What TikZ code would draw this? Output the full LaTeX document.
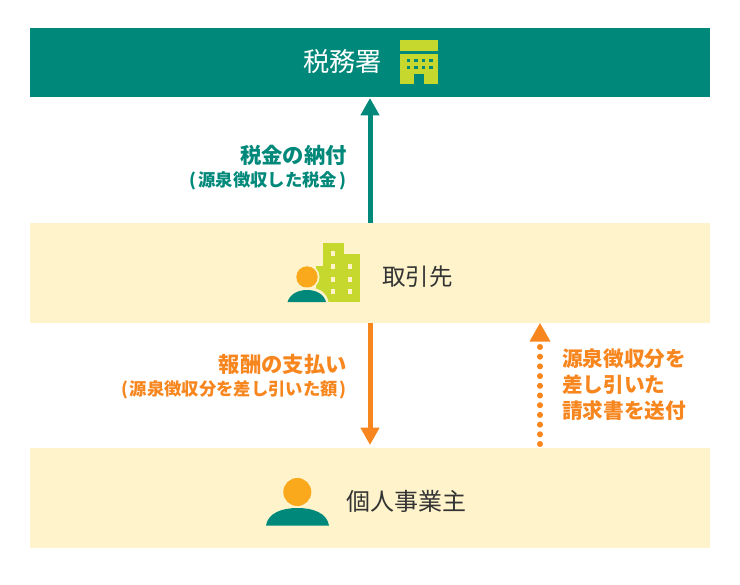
\documentclass[tikz,border=0pt]{standalone}
\usepackage{fontspec}
\usetikzlibrary{arrows.meta,calc}
\setmainfont{Noto Sans CJK JP}
\definecolor{grn}{HTML}{00897A}
\definecolor{crm}{HTML}{FEF3CB}
\definecolor{lime}{HTML}{C6D72E}
\definecolor{org}{HTML}{F8861E}
\definecolor{yel}{HTML}{FBA91C}
\definecolor{ink}{HTML}{333333}
\tikzset{
  x=0.75pt,y=-0.75pt,
  band/.style={anchor=north west,minimum width=510pt,minimum height=75pt,inner sep=0pt,draw=none},
  title/.style={font=\fontsize{19.7}{22}\selectfont,inner sep=0pt,text=ink},
  lab/.style={font=\bfseries\fontsize{16}{20}\selectfont,inner sep=0pt,align=left},
  sublab/.style={font=\bfseries\fontsize{13}{14}\selectfont,inner sep=0pt},
  solidarrow/.style={line width=3.75pt,-{Triangle[length=13pt,width=13.5pt]}},
}
\begin{document}
\begin{tikzpicture}
\useasboundingbox (0,0) rectangle (740,585);
\fill[white] (0,0) rectangle (740,585);
% bands
\node[band,fill=grn,minimum height=51.75pt] (tax) at (30,28) {};
\node[band,fill=crm] (client) at (30,223) {};
\node[band,fill=crm] (self) at (30,448) {};
% band titles
\node[title,text=white,anchor=west] (taxT) at (303,62) {税務署};
\node[title,anchor=west,font=\fontsize{17.6}{22}\selectfont] (clientT) at (382,277) {取引先};
\node[title,anchor=west,font=\fontsize{18}{22}\selectfont] (selfT) at (346,501) {個人事業主};
% tax office icon
\fill[lime] (399.5,40.5) rectangle (437.5,51);
\fill[lime] (399.5,54) rectangle (437.5,84.5);
\fill[grn] (414,74) rectangle (423.5,85);
\foreach \px in {408.5,416,423.5,431}{
  \fill[grn] (\px-1.75,59) rectangle ++(3.5,3.5);
  \fill[grn] (\px-1.75,66) rectangle ++(3.5,3.5);
}
% client icon: building
\fill[lime] (322.5,243) rectangle (343.5,302);
\fill[lime] (322.5,254) rectangle (360,302);
\fill[lime] (316,266) rectangle (323,302);
\foreach \px/\py in {333/253.5,333/266,333/279,333/291.5,350/266,350/279,350/291.5}{
  \fill[crm] (\px-2,\py-2.5) rectangle ++(4,5);
}
% client icon: person
\fill[crm] (307,277) circle (12.5);
\fill[yel] (307,277) circle (10.7);
\fill[crm] (285,304) -- (285,302) .. controls (288,291) and (297,287.5) .. (307,287.5) .. controls (318,287.5) and (327,291) .. (329,304) -- cycle;
\fill[grn] (287.5,302) .. controls (290,294) and (298,290) .. (307,290) .. controls (316,290) and (324,294) .. (326,302) -- cycle;
% self icon
\fill[yel] (297.3,492) circle (14);
\fill[grn] (266,525.5) .. controls (268,513) and (282,508) .. (297.5,508) .. controls (313,508) and (327,513) .. (329,525.5) -- cycle;
% connector ends
\coordinate (a1) at (370,222.5);
\coordinate (a2) at (370,98);
\coordinate (b1) at (370,323);
\coordinate (b2) at (370,445);
\coordinate (c1) at (540,444);
\coordinate (c2) at (540,323);
% arrows
\draw[solidarrow,grn] (a1) -- (a2);
\draw[solidarrow,org] (b1) -- (b2);
\foreach \i in {0,...,10}{
  \fill[org] ($(c1)+(0,-\i*9.7)$) circle (3.05);
}
\fill[org] (c2) -- (529.5,341.5) -- (550.5,341.5) -- cycle;
% labels
\node[lab,text=grn,anchor=east] (l1) at (347,155.5) {税金の納付};
\node[sublab,text=grn,anchor=east] (l2) at (346.5,181) {(\kern1.5pt源泉徴収した税金\kern1.5pt)};
\node[lab,text=org,anchor=east] (l3) at (347,364) {報酬の支払い};
\node[sublab,text=org,anchor=east] (l4) at (346.5,390) {(\kern1pt源泉徴収分を差し引いた額\kern1pt)};
\node[lab,text=org,anchor=north west,font=\bfseries\fontsize{15.5}{19.7}\selectfont] (l5) at (562,348) {源泉徴収分を\\差し引いた\\請求書を送付};
\end{tikzpicture}
\end{document}
